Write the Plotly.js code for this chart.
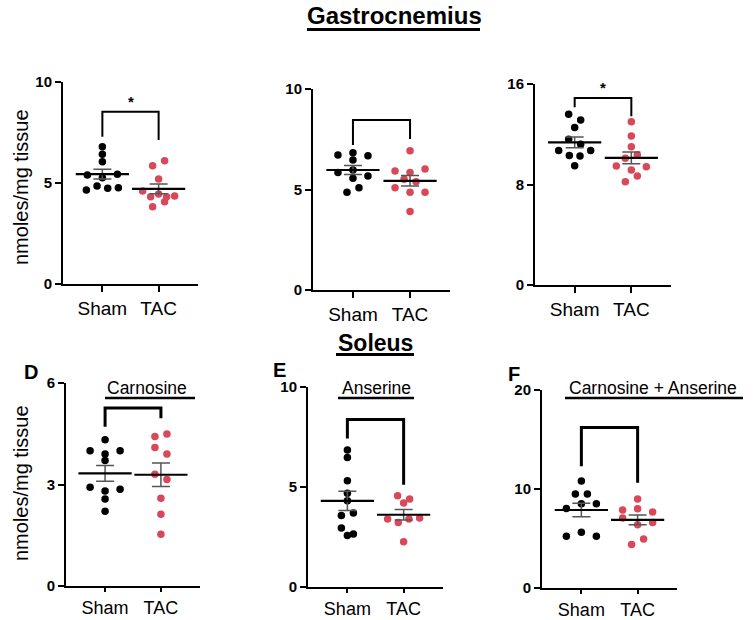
<!DOCTYPE html>
<html>
<head>
<meta charset="utf-8">
<script src="https://cdn.plot.ly/plotly-3.0.1.min.js"></script>
<style>html,body{margin:0;padding:0;background:#fff;}#chart{width:754px;height:620px;}</style>
</head>
<body>
<div id="chart"></div>
<script>
// ---------- data (nmoles/mg tissue) ----------
const groups = ['Sham', 'TAC'];

// Gastrocnemius
const gastroCarnosineSham = [6.80, 6.42, 6.05, 5.40, 5.26, 5.43, 4.65, 4.85, 4.74, 4.77];
const gastroCarnosineTAC  = [5.86, 6.10, 5.20, 4.60, 4.32, 4.46, 4.32, 4.36, 3.83, 4.07];
const gastroAnserineSham  = [6.72, 6.83, 6.68, 6.47, 5.85, 5.97, 5.67, 5.56, 4.86, 5.09];
const gastroAnserineTAC   = [6.93, 5.92, 5.85, 6.02, 5.51, 5.39, 5.09, 4.86, 4.86, 3.90];
const gastroTotalSham     = [13.59, 13.14, 12.53, 11.60, 11.20, 10.70, 10.30, 10.27, 10.70, 9.50];
const gastroTotalTAC      = [13.00, 11.86, 11.01, 10.08, 10.35, 9.47, 9.16, 9.42, 8.22, 8.68];

// Soleus
const soleusCarnosineSham = [4.32, 4.00, 3.90, 4.00, 3.71, 2.92, 2.81, 2.86, 2.57, 2.21];
const soleusCarnosineTAC  = [4.42, 4.49, 4.09, 3.90, 3.30, 3.15, 2.59, 2.12, 1.53];
const soleusAnserineSham  = [6.85, 6.47, 5.31, 4.69, 4.31, 3.58, 3.70, 2.95, 2.65, 2.57];
const soleusAnserineTAC   = [4.56, 4.40, 4.20, 3.40, 3.23, 3.40, 3.45, 2.26];
const soleusTotalSham     = [10.81, 9.49, 9.49, 8.04, 8.50, 8.50, 5.22, 5.62, 5.22];
const soleusTotalTAC      = [8.99, 7.87, 8.00, 7.67, 7.08, 6.40, 6.61, 4.40, 4.96];

const yMaxes = [10, 10, 16, 6, 10, 20];
const yTicks = [[0, 5, 10], [0, 5, 10], [0, 8, 16], [0, 3, 6], [0, 5, 10], [0, 10, 20]];
const panelTitles = ['', '', '', 'Carnosine', 'Anserine', 'Carnosine + Anserine'];
const panelLetters = ['', '', '', 'D', 'E', 'F'];
const significance = ['*', '', '*', '', '', ''];

// ---------- layout config ----------
const W = 754, H = 620;
const FONT = 'Liberation Sans, Arial, Helvetica, sans-serif';
const SHAM_COLOR = '#000000';
const TAC_COLOR = '#d9485a';

const panels = [
  {sham: gastroCarnosineSham, tac: gastroCarnosineTAC, box: [63, 198, 82, 284],  bracket: [7.29, 8.53, 7.13], lw: 2, tl: 6, tf: 19},
  {sham: gastroAnserineSham,  tac: gastroAnserineTAC,  box: [313, 450, 89, 290], bracket: [7.21, 8.46, 7.51], lw: 2, tl: 6, tf: 19},
  {sham: gastroTotalSham,     tac: gastroTotalTAC,     box: [535, 671, 84, 285], bracket: [14.15, 14.89, 13.43], lw: 2, tl: 6, tf: 19},
  {sham: soleusCarnosineSham, tac: soleusCarnosineTAC, box: [66, 200, 383, 586], bracket: [4.71, 5.26, 4.96], lw: 3, tl: 4, tf: 18},
  {sham: soleusAnserineSham,  tac: soleusAnserineTAC,  box: [308, 443, 387, 587], bracket: [7.43, 8.37, 5.11], lw: 3, tl: 4, tf: 18},
  {sham: soleusTotalSham,     tac: soleusTotalTAC,     box: [542, 677, 390, 588], bracket: [12.3, 16.2, 10.64], lw: 3, tl: 4, tf: 18}
];
const XR = [-0.7, 1.7];

const px = x => x / W;
const py = y => 1 - y / H;

function mean(a) { return a.reduce((s, v) => s + v, 0) / a.length; }
function sem(a) {
  const m = mean(a);
  const v = a.reduce((s, x) => s + (x - m) * (x - m), 0) / (a.length - 1);
  return Math.sqrt(v / a.length);
}

// Prism-like scatter: group close values into rows, spread each row symmetrically
function swarm(vals, pxPerY, pxPerX) {
  const order = vals.map((v, i) => i).sort((a, b) => vals[b] - vals[a] || a - b);
  const rows = [];
  let cur = null;
  order.forEach(i => {
    if (cur && (vals[cur[0]] - vals[i]) * pxPerY <= 7) cur.push(i);
    else { cur = [i]; rows.push(cur); }
  });
  const off = new Array(vals.length).fill(0);
  rows.forEach(r => {
    r.sort((a, b) => a - b);
    const n = r.length;
    const sp = n === 1 ? 0 : (n === 2 ? 12 : Math.min(15, 32 / (n - 1)));
    r.forEach((idx, k) => { off[idx] = (k - (n - 1) / 2) * sp / pxPerX; });
  });
  return off;
}

const traces = [];
const layout = {
  width: W, height: H,
  margin: {l: 0, r: 0, t: 0, b: 0},
  paper_bgcolor: '#ffffff', plot_bgcolor: '#ffffff',
  showlegend: false,
  font: {family: FONT, color: '#000'},
  shapes: [], annotations: []
};

panels.forEach((p, i) => {
  const sfx = i === 0 ? '' : String(i + 1);
  const xa = 'x' + sfx, ya = 'y' + sfx;
  const [x0, x1, y0, y1] = p.box;
  const ymax = yMaxes[i];
  const pxPerY = (y1 - y0) / ymax;
  const pxPerX = (x1 - x0) / (XR[1] - XR[0]);

  layout['xaxis' + sfx] = {
    domain: [px(x0), px(x1)], range: XR, anchor: ya,
    tickmode: 'array', tickvals: [0, 1], ticktext: groups,
    showline: true, linewidth: 2, linecolor: '#000',
    ticks: 'outside', ticklen: p.tl, tickwidth: 2, tickcolor: '#000',
    showgrid: false, zeroline: false,
    tickfont: {family: FONT, size: p.tf, color: '#000'}, fixedrange: true
  };
  layout['yaxis' + sfx] = {
    domain: [py(y1), py(y0)], range: [0, ymax], anchor: xa,
    tickmode: 'array', tickvals: yTicks[i], ticktext: yTicks[i].map(String),
    showline: true, linewidth: 2, linecolor: '#000',
    ticks: 'outside', ticklen: 6, tickwidth: 2, tickcolor: '#000',
    showgrid: false, zeroline: false,
    tickfont: {family: FONT, size: 15, color: '#000', weight: 'bold'}, fixedrange: true
  };

  [[p.sham, 0, SHAM_COLOR], [p.tac, 1, TAC_COLOR]].forEach(([vals, gx, col]) => {
    const off = swarm(vals, pxPerY, pxPerX);
    traces.push({
      type: 'scatter', mode: 'markers', xaxis: xa, yaxis: ya, cliponaxis: false,
      x: vals.map((v, k) => gx + off[k]), y: vals,
      marker: {size: 7.5, color: col, line: {width: 0}}, hoverinfo: 'y'
    });
    traces.push({
      type: 'scatter', mode: 'markers', xaxis: xa, yaxis: ya, cliponaxis: false,
      x: [gx], y: [mean(vals)],
      error_y: {type: 'data', array: [sem(vals)], visible: true, color: '#555', thickness: 1.5, width: 9},
      marker: {symbol: 'line-ew', size: 38, color: '#000', line: {width: 2.2, color: '#000'}},
      hoverinfo: 'y'
    });
  });

  // comparison bracket
  const [bl, bt, br] = p.bracket;
  layout.shapes.push({
    type: 'path', xref: xa, yref: ya,
    path: `M 0,${bl} L 0,${bt} L 1,${bt} L 1,${br}`,
    line: {color: '#000', width: p.lw}
  });
  if (significance[i]) {
    layout.annotations.push({
      xref: xa, yref: ya, x: 0.5, y: bt, yanchor: 'bottom', yshift: 0,
      text: significance[i], showarrow: false,
      font: {family: FONT, size: 15, color: '#000', weight: 'bold'}
    });
  }
});

// headings and titles
function textAt(x, y, text, size, bold, extra) {
  layout.annotations.push(Object.assign({
    xref: 'paper', yref: 'paper', x: px(x), y: py(y), xanchor: 'center', yanchor: 'middle',
    text: text, showarrow: false,
    font: {family: FONT, size: size, color: '#000', weight: bold ? 'bold' : 'normal'}
  }, extra || {}));
}
function underline(xa, xb, y, w) {
  layout.shapes.push({type: 'line', xref: 'paper', yref: 'paper',
    x0: px(xa), x1: px(xb), y0: py(y), y1: py(y), line: {color: '#000', width: w}});
}

textAt(394, 16, 'Gastrocnemius', 24, true);
underline(307, 480, 29.5, 3);
textAt(375, 343, 'Soleus', 23, true);
underline(336, 414, 354.5, 3);

const titleCenters = [null, null, null, 147, 376, 653];
const titleLines = [null, null, null, [105, 195], [338, 414], [565, 743]];
const letterPos = [null, null, null, [31, 372], [279, 370], [514, 374]];
for (let i = 3; i < 6; i++) {
  textAt(titleCenters[i], 388, panelTitles[i], 17.5, false);
  underline(titleLines[i][0], titleLines[i][1], 398, 2.5);
  textAt(letterPos[i][0], letterPos[i][1], panelLetters[i], 20, true);
}

textAt(21, 187, 'nmoles/mg tissue', 20, false, {textangle: -90});
textAt(21, 483, 'nmoles/mg tissue', 20, false, {textangle: -90});

Plotly.newPlot('chart', traces, layout, {displayModeBar: false, staticPlot: true});
</script>
</body>
</html>
